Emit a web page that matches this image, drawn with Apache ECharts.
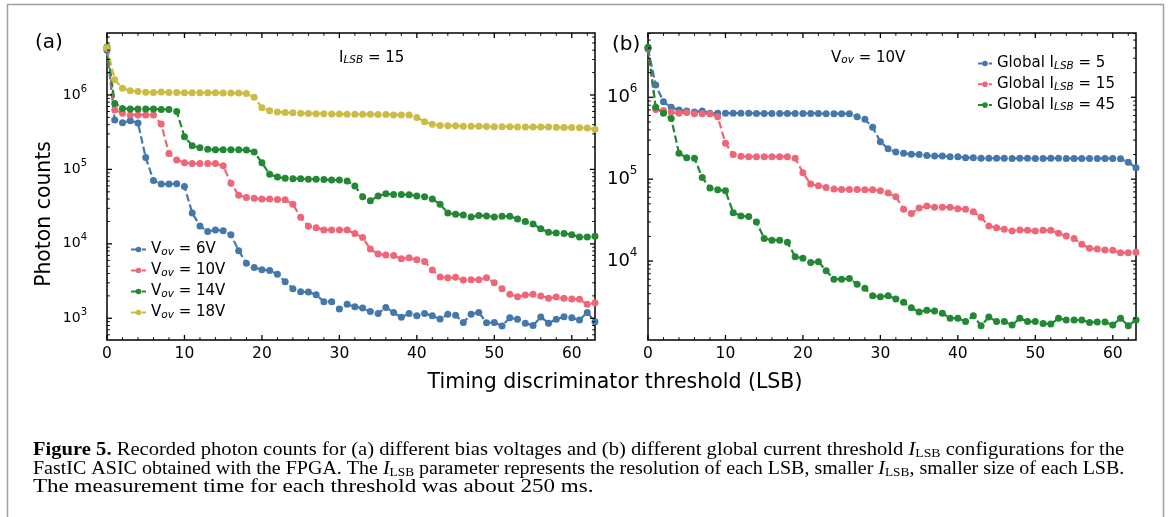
<!DOCTYPE html>
<html><head><meta charset="utf-8">
<script src="https://cdn.jsdelivr.net/npm/echarts@6/dist/echarts.min.js"></script>
<style>html,body{margin:0;padding:0;background:#fff}#c{width:1170px;height:517px}</style>
</head><body><div id="c"></div>
<script>
// ---------------- data ----------------
const thresholds = [0,1,2,3,4,5,6,7,8,9,10,11,12,13,14,15,16,17,18,19,20,21,22,23,24,25,26,27,28,29,30,31,32,33,34,35,36,37,38,39,40,41,42,43,44,45,46,47,48,49,50,51,52,53,54,55,56,57,58,59,60,61,62,63];

// panel (a): I_LSB = 15, different V_ov
const vov6V = [4.0e6,4.6e5,4.25e5,4.5e5,4.2e5,1.44e5,7.1e4,6.35e4,6.35e4,6.4e4,5.9e4,2.6e4,1.74e4,1.46e4,1.54e4,1.5e4,1.33e4,8.1e3,5.5e3,4.8e3,4.5e3,4.4e3,3.9e3,3.1e3,2.5e3,2.27e3,2.25e3,2.07e3,1.67e3,1.67e3,1.33e3,1.54e3,1.43e3,1.37e3,1.23e3,1.16e3,1.4e3,1.2e3,1.03e3,1.16e3,1.08e3,1.16e3,1.08e3,980,1.13e3,1.1e3,880,1.13e3,1.2e3,870,880,790,1.02e3,970,860,800,1.04e3,860,970,1.05e3,1.02e3,950,1.2e3,900];
const vov10V = [4.2e6,6.3e5,5.7e5,5.4e5,5.4e5,5.4e5,5.4e5,4.07e5,1.64e5,1.34e5,1.23e5,1.2e5,1.2e5,1.2e5,1.2e5,1.12e5,6.5e4,4.5e4,4.2e4,4.1e4,4.0e4,4.0e4,3.95e4,3.9e4,3.4e4,2.27e4,1.72e4,1.65e4,1.54e4,1.54e4,1.54e4,1.54e4,1.38e4,1.22e4,8.5e3,7.3e3,7.1e3,7.0e3,6.3e3,6.5e3,6.1e3,5.8e3,4.45e3,3.6e3,3.5e3,3.55e3,3.27e3,3.3e3,3.3e3,3.5e3,3.0e3,2.5e3,2.1e3,1.95e3,2.05e3,2.1e3,2.0e3,1.86e3,1.93e3,1.86e3,1.82e3,1.8e3,1.54e3,1.62e3];
const vov14V = [4.4e6,7.7e5,6.6e5,6.5e5,6.5e5,6.5e5,6.5e5,6.4e5,6.4e5,6.0e5,2.75e5,2.08e5,1.96e5,1.86e5,1.84e5,1.84e5,1.84e5,1.84e5,1.82e5,1.72e5,1.23e5,8.6e4,7.9e4,7.6e4,7.5e4,7.5e4,7.4e4,7.4e4,7.3e4,7.2e4,7.2e4,7.0e4,6.0e4,4.3e4,3.8e4,4.4e4,4.7e4,4.6e4,4.6e4,4.55e4,4.4e4,4.3e4,4.0e4,3.4e4,2.6e4,2.5e4,2.45e4,2.3e4,2.4e4,2.37e4,2.3e4,2.35e4,2.35e4,2.16e4,2.0e4,1.85e4,1.59e4,1.43e4,1.4e4,1.38e4,1.33e4,1.24e4,1.24e4,1.27e4];
const vov18V = [4.3e6,1.6e6,1.23e6,1.14e6,1.11e6,1.09e6,1.08e6,1.1e6,1.08e6,1.08e6,1.07e6,1.07e6,1.07e6,1.07e6,1.07e6,1.06e6,1.06e6,1.06e6,1.05e6,9.3e5,6.75e5,6.15e5,5.9e5,5.8e5,5.75e5,5.7e5,5.65e5,5.6e5,5.6e5,5.55e5,5.55e5,5.5e5,5.5e5,5.5e5,5.5e5,5.45e5,5.45e5,5.4e5,5.4e5,5.4e5,5.0e5,4.38e5,4.04e5,3.9e5,3.85e5,3.85e5,3.8e5,3.8e5,3.8e5,3.78e5,3.75e5,3.75e5,3.75e5,3.72e5,3.72e5,3.7e5,3.7e5,3.7e5,3.68e5,3.65e5,3.65e5,3.62e5,3.6e5,3.46e5];

// panel (b): V_ov = 10V, different global I_LSB
const ilsb5 = [3.9e6,1.41e6,8.8e5,7.55e5,7.0e5,6.8e5,6.6e5,6.8e5,6.4e5,6.4e5,6.4e5,6.4e5,6.4e5,6.4e5,6.35e5,6.35e5,6.35e5,6.35e5,6.35e5,6.35e5,6.35e5,6.35e5,6.35e5,6.3e5,6.3e5,6.3e5,6.3e5,5.8e5,5.4e5,4.3e5,2.87e5,2.35e5,2.15e5,2.07e5,2.02e5,2.0e5,1.94e5,1.92e5,1.92e5,1.88e5,1.88e5,1.83e5,1.82e5,1.8e5,1.8e5,1.8e5,1.8e5,1.79e5,1.8e5,1.8e5,1.79e5,1.79e5,1.8e5,1.8e5,1.79e5,1.79e5,1.79e5,1.79e5,1.79e5,1.79e5,1.79e5,1.77e5,1.61e5,1.38e5];
const ilsb15 = [4.0e6,7.1e5,6.9e5,6.6e5,6.4e5,6.5e5,6.3e5,6.3e5,6.3e5,5.8e5,2.74e5,2.0e5,1.9e5,1.88e5,1.88e5,1.88e5,1.88e5,1.88e5,1.88e5,1.8e5,1.2e5,8.7e4,8.3e4,7.9e4,7.6e4,7.5e4,7.5e4,7.5e4,7.4e4,7.4e4,7.2e4,6.8e4,6.1e4,4.3e4,3.8e4,4.45e4,4.7e4,4.55e4,4.55e4,4.55e4,4.36e4,4.3e4,4.0e4,3.42e4,2.68e4,2.55e4,2.44e4,2.33e4,2.4e4,2.37e4,2.33e4,2.37e4,2.37e4,2.18e4,2.02e4,1.89e4,1.6e4,1.43e4,1.4e4,1.36e4,1.35e4,1.26e4,1.26e4,1.28e4];
const ilsb45 = [4.1e6,7.55e5,6.4e5,5.5e5,2.07e5,1.83e5,1.8e5,1.05e5,7.8e4,7.4e4,7.2e4,3.9e4,3.55e4,3.5e4,3.0e4,1.89e4,1.8e4,1.8e4,1.69e4,1.13e4,1.08e4,9.6e3,9.8e3,7.6e3,6.0e3,6.0e3,6.1e3,5.2e3,4.64e3,3.77e3,3.65e3,3.77e3,3.43e3,3.13e3,2.69e3,2.38e3,2.5e3,2.45e3,2.3e3,2.0e3,2.0e3,1.82e3,2.14e3,1.62e3,2.07e3,1.82e3,1.82e3,1.65e3,2.0e3,1.82e3,1.82e3,1.73e3,1.7e3,2.0e3,1.9e3,1.9e3,1.9e3,1.78e3,1.8e3,1.8e3,1.65e3,2.0e3,1.62e3,1.9e3];

// axis ranges and ticks
const xRange = [0, 63];
const yRangeA = [511, 6.8e6];
const yRangeB = [1085, 6.1e6];
const xMajorTicks = [0,10,20,30,40,50,60];
const xMinorTicks = [2,4,6,8,12,14,16,18,22,24,26,28,32,34,36,38,42,44,46,48,52,54,56,58,62];
const yMajorTicks = [1e3,1e4,1e5,1e6];
const yMinorMult = [2,3,4,5,6,7,8,9];
const yDecades = [1e2,1e3,1e4,1e5,1e6];

const colors = {blue:'#4477AA', red:'#EE6677', green:'#228833', yellow:'#CCBB44'};
const FONT = 'DejaVu Sans';

// -------------- helpers --------------
function lineSeries(name, values, color, idx) {
  return {
    type:'line', name, xAxisIndex:idx, yAxisIndex:idx,
    data: thresholds.map((t,i)=>[t, values[i]]),
    symbol:'circle', symbolSize:7, showSymbol:true,
    lineStyle:{color, width:2.2, type:[7.5,3.3]},
    itemStyle:{color},
    emphasis:{disabled:true}, animation:false, z:3
  };
}
function minorVals(range){
  const out=[];
  yDecades.forEach(d=>yMinorMult.forEach(m=>{const v=d*m; if(v>range[0]&&v<range[1]) out.push(v);}));
  return out;
}
function yTicks(vals, len, lw, idx){
  return {type:'custom', xAxisIndex:idx, yAxisIndex:idx, silent:true, z:6, animation:false, clip:false,
    data: vals.map(v=>[xRange[0], v]),
    renderItem:(p, api)=>{
      const v = api.value(1);
      const a = api.coord([xRange[0], v]), b = api.coord([xRange[1], v]);
      return {type:'group', children:[
        {type:'line', shape:{x1:a[0], y1:a[1], x2:a[0]+len, y2:a[1]}, style:{stroke:'#000', lineWidth:lw}},
        {type:'line', shape:{x1:b[0], y1:b[1], x2:b[0]-len, y2:b[1]}, style:{stroke:'#000', lineWidth:lw}}]};
    }};
}
function xTicks(vals, len, lw, idx, yr){
  return {type:'custom', xAxisIndex:idx, yAxisIndex:idx, silent:true, z:6, animation:false, clip:false,
    data: vals.map(v=>[v, yr[0]]),
    renderItem:(p, api)=>{
      const v = api.value(0);
      const a = api.coord([v, yr[0]]), b = api.coord([v, yr[1]]);
      return {type:'group', children:[
        {type:'line', shape:{x1:a[0], y1:a[1], x2:a[0], y2:a[1]-len}, style:{stroke:'#000', lineWidth:lw}},
        {type:'line', shape:{x1:b[0], y1:b[1], x2:b[0], y2:b[1]+len}, style:{stroke:'#000', lineWidth:lw}}]};
    }};
}
function powLabel(v){
  const l = Math.log10(v), e = Math.round(l);
  if (Math.abs(l-e) > 1e-6) return '';
  return '{b|10}{s|' + e + '}';
}
function yAxisOpt(idx, range, baseSize, supSize, margin, lh, supLh){
  return {type:'log', gridIndex:idx, min:range[0], max:range[1], logBase:10,
    axisLine:{show:false}, axisTick:{show:false}, splitLine:{show:false}, minorTick:{show:false},
    axisLabel:{show:true, margin, formatter:powLabel, showMinLabel:true, showMaxLabel:true,
      rich:{ b:{fontFamily:FONT, fontSize:baseSize, color:'#000', lineHeight:lh},
             s:{fontFamily:FONT, fontSize:supSize, color:'#000', lineHeight:supLh, verticalAlign:'top'} } }};
}
function xAxisOpt(idx){
  return {type:'value', gridIndex:idx, min:xRange[0], max:xRange[1], interval:10,
    axisLine:{show:false}, axisTick:{show:false}, splitLine:{show:false},
    axisLabel:{show:true, margin:6, fontFamily:FONT, fontSize:15.5, color:'#000',
      formatter:v=> (v%10===0 ? String(v) : '')}};
}
const subRich = (size)=>({
  n:{fontFamily:FONT, fontSize:size, color:'#000', lineHeight:16},
  s:{fontFamily:FONT, fontSize:size*0.7, fontStyle:'italic', color:'#000', lineHeight:8, verticalAlign:'bottom'}
});

const chart = echarts.init(document.getElementById('c'), null, {renderer:'canvas'});
const serif = 'Liberation Serif';
const CAP = 18;
const capRich = {
  b:{fontFamily:serif, fontSize:CAP, fontWeight:'bold', color:'#000', lineHeight:19},
  i:{fontFamily:serif, fontSize:CAP, fontStyle:'italic', color:'#000', lineHeight:19},
  sub:{fontFamily:serif, fontSize:12, color:'#000', lineHeight:9, verticalAlign:'bottom'},
  t:{fontFamily:serif, fontSize:CAP, color:'#000', lineHeight:19}
};
function capLine(text, y, sx){
  return {type:'text', x:33, y, scaleX:sx, originX:0, originY:0, silent:true,
    style:{text, rich:capRich, fontFamily:serif, fontSize:CAP, fill:'#000', verticalAlign:'middle', align:'left', x:0, y:0}};
}

chart.setOption({
  animation:false,
  backgroundColor:'#fff',
  grid:[
    {left:107, top:33, width:488, height:307, show:true, borderColor:'#000', borderWidth:1.5, backgroundColor:'transparent'},
    {left:648, top:33, width:488, height:307, show:true, borderColor:'#000', borderWidth:1.5, backgroundColor:'transparent'}
  ],
  xAxis:[xAxisOpt(0), xAxisOpt(1)],
  yAxis:[yAxisOpt(0, yRangeA, 14, 10, 20, 22, 10), yAxisOpt(1, yRangeB, 18, 12, 10.5, 28, 12)],
  legend:[
    {left:125, top:237, orient:'vertical', itemGap:5.5, itemWidth:15, itemHeight:7, selectedMode:false,
     data:['6V','10V','14V','18V'], formatter:n=>'{n|V}{s|ov}{n| = '+n+'}', textStyle:{rich:subRich(15)}},
    {left:972, top:51, orient:'vertical', itemGap:5.3, itemWidth:14, itemHeight:7, selectedMode:false,
     data:['5','15','45'], formatter:n=>'{n|Global I}{s|LSB}{n| = '+n+'}', textStyle:{rich:subRich(15)}}
  ],
  series:[
    lineSeries('6V', vov6V, colors.blue, 0),
    lineSeries('10V', vov10V, colors.red, 0),
    lineSeries('14V', vov14V, colors.green, 0),
    lineSeries('18V', vov18V, colors.yellow, 0),
    lineSeries('5', ilsb5, colors.blue, 1),
    lineSeries('15', ilsb15, colors.red, 1),
    lineSeries('45', ilsb45, colors.green, 1),
    yTicks(yMajorTicks.filter(v=>v>yRangeA[0]&&v<yRangeA[1]), 5, 1.3, 0),
    yTicks(minorVals(yRangeA), 2.8, 1, 0),
    yTicks(yMajorTicks.filter(v=>v>yRangeB[0]&&v<yRangeB[1]), 5, 1.3, 1),
    yTicks(minorVals(yRangeB), 2.8, 1, 1),
    xTicks(xMajorTicks, 5, 1.3, 0, yRangeA),
    xTicks(xMinorTicks, 2.8, 1, 0, yRangeA),
    xTicks(xMajorTicks, 5, 1.3, 1, yRangeB),
    xTicks(xMinorTicks, 2.8, 1, 1, yRangeB)
  ],
  graphic:[
    {type:'polyline', shape:{points:[[7.5,517],[7.5,4.5],[1163.5,4.5],[1163.5,517]]}, style:{stroke:'#a0a0a0', lineWidth:1.5, fill:null}, silent:true},
    {type:'text', style:{text:'(a)', x:35, y:43, fontFamily:FONT, fontSize:20, fill:'#000', verticalAlign:'middle'}},
    {type:'text', style:{text:'(b)', x:612, y:45, fontFamily:FONT, fontSize:20, fill:'#000', verticalAlign:'middle'}},
    {type:'text', style:{text:'{n|I}{s|LSB}{n| = 15}', rich:subRich(15), x:339, y:58, verticalAlign:'middle'}},
    {type:'text', style:{text:'{n|V}{s|ov}{n| = 10V}', rich:subRich(15), x:831, y:58, verticalAlign:'middle'}},
    {type:'text', x:45, y:214, rotation:Math.PI/2, style:{text:'Photon counts', x:0, y:0, fontFamily:FONT, fontSize:20.4, fill:'#000', align:'center', verticalAlign:'middle'}},
    {type:'text', style:{text:'Timing discriminator threshold (LSB)', x:615, y:383, fontFamily:FONT, fontSize:20.5, fill:'#000', align:'center', verticalAlign:'middle'}},
    capLine('{b|Figure 5.}{t| Recorded photon counts for (a) different bias voltages and (b) different global current threshold }{i|I}{sub|LSB}{t| configurations for the}', 450, 1.144),
    capLine('{t|FastIC ASIC obtained with the FPGA. The }{i|I}{sub|LSB}{t| parameter represents the resolution of each LSB, smaller }{i|I}{sub|LSB}{t|, smaller size of each LSB.}', 469, 1.111),
    capLine('{t|The measurement time for each threshold was about 250 ms.}', 487.5, 1.28)
  ]
});
</script></body></html>
